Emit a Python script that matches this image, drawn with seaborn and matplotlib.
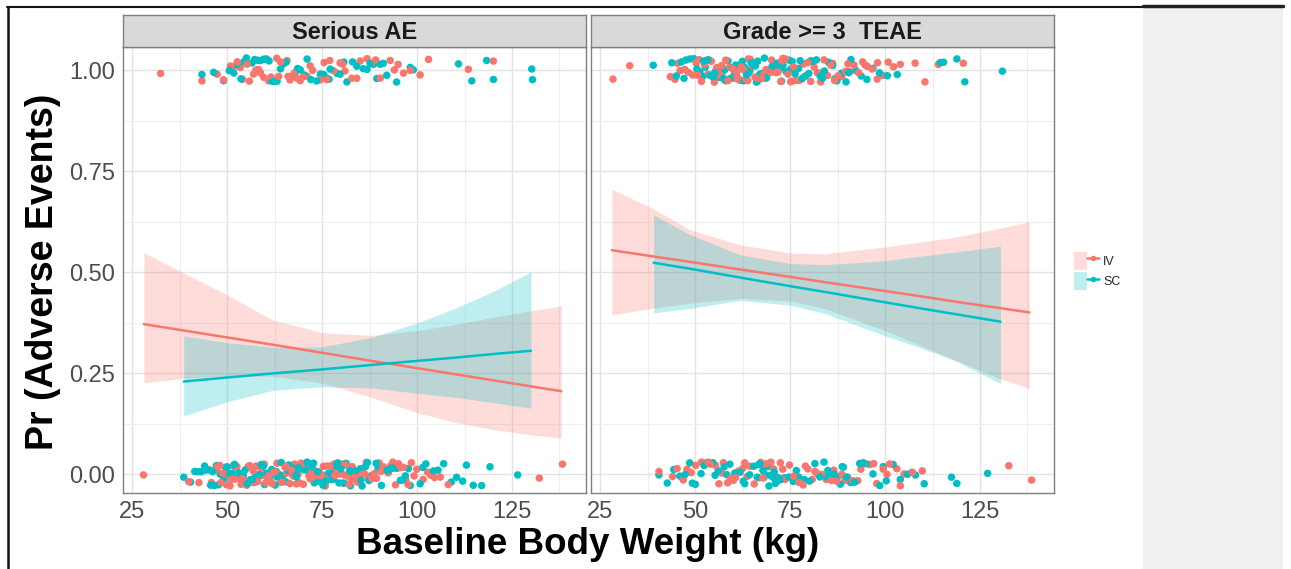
import numpy as np
import pandas as pd
import matplotlib
matplotlib.use("Agg")
import matplotlib.pyplot as plt
import seaborn as sns
from matplotlib.patches import Patch, Rectangle
from matplotlib.lines import Line2D
from matplotlib.legend_handler import HandlerTuple

# ---------------- data ----------------
panels = ["Serious AE", "Grade >= 3  TEAE"]
routes = ["IV", "SC"]
colors = {"IV": "#F8766D", "SC": "#00BFC4"}
x_ticks = [25, 50, 75, 100, 125]
y_ticks = [0.0, 0.25, 0.5, 0.75, 1.0]
y_tick_labels = ["0.00", "0.25", "0.50", "0.75", "1.00"]

# observed body weights (kg), by panel / route / outcome
sae_iv_1 = [32.4, 43.3, 47.3, 49, 50.8, 51.7, 53.4, 54, 55.2, 56.9, 57.5, 58.7, 59.6, 60.9, 61.5,
            62.2, 63, 64, 65.7, 66.5, 67.5, 69.2, 70, 71, 72.5, 74.5, 75.5, 76.2, 78, 79.7, 81,
            82.8, 84.1, 86.8, 88, 90.3, 92.9, 94, 96.4, 98.2, 100.8, 103, 113.5, 120.1,
            52.6, 55.8, 58.2, 60.3, 63.5, 66.0, 68.4, 71.8, 77.0, 80.4, 85.0, 89.1, 95.0]
sae_sc_1 = [43.3, 46.4, 49, 51.7, 52.5, 54.3, 55, 56.5, 58, 58.7, 59.6, 60.4, 61, 62.2, 63.1, 64,
            64.8, 66.6, 67.9, 69.2, 71, 72, 73.5, 74.5, 75.4, 76.2, 77.1, 78.9, 79.7, 81.5, 84.1,
            86.8, 87.6, 89.4, 90.3, 91.1, 94.6, 98.2, 99, 110.9, 114.4, 118.3, 120.1, 130.2, 130.4,
            50.5, 53.6, 57.2, 61.7, 65.5, 68.5, 70.2, 76.8, 80.7, 83.0, 85.8, 88.5, 92.0]
sae_iv_0 = [27.9, 39.8, 42.5, 44.1, 45.3, 46.9, 47.4, 48.3, 48.8, 49.7, 50.2, 51.1, 51.7, 52.5,
            53.1, 53.6, 54.4, 55.1, 55.5, 56.3, 56.8, 57.6, 58.0, 58.9, 59.3, 60.1, 60.6, 61.4,
            61.8, 62.7, 63.1, 63.9, 64.4, 65.2, 65.6, 66.5, 66.9, 67.7, 68.2, 69.0, 69.4, 70.3,
            70.7, 71.5, 72.0, 72.8, 73.2, 74.1, 74.5, 75.3, 75.8, 76.6, 77.0, 77.9, 78.3, 79.1,
            79.6, 80.4, 80.8, 81.7, 82.1, 82.9, 83.4, 84.2, 84.7, 85.6, 86.1, 87.1, 87.6, 88.7,
            89.3, 90.5, 91.1, 92.4, 93.0, 94.3, 95.1, 96.4, 97.6, 98.5, 99.9, 101.6, 102.8,
            104.6, 106.1, 108.2, 132.2, 138.3,
            45.8, 48.0, 50.7, 52.0, 53.9, 55.9, 57.2, 59.7, 61.0, 62.3, 64.0, 65.4, 67.3, 68.6,
            70.0, 71.8, 73.6, 74.9, 76.2, 78.1, 79.4, 81.1, 82.6, 84.4, 86.6, 88.1, 90.0, 91.7,
            93.6, 95.7, 97.0, 99.2, 103.6]
sae_sc_0 = [38.5, 40.3, 41.4, 43.1, 44.7, 45.6, 46.1, 47.1, 47.7, 48.6, 49.1, 50.0, 50.5, 51.4,
            51.9, 52.8, 53.3, 54.2, 54.7, 55.6, 56.1, 57.0, 57.5, 58.4, 58.9, 59.8, 60.3, 61.2,
            61.7, 62.6, 63.1, 64.0, 64.5, 65.4, 65.9, 66.8, 67.3, 68.2, 68.7, 69.6, 70.1, 71.0,
            71.5, 72.4, 72.9, 73.8, 74.3, 75.2, 75.7, 76.6, 77.1, 78.0, 78.5, 79.4, 79.9, 80.8,
            81.3, 82.2, 82.7, 83.6, 84.1, 85.0, 85.5, 86.4, 86.9, 87.8, 88.3, 89.2, 89.7, 90.6,
            91.1, 92.1, 92.9, 94.1, 94.8, 96.1, 96.9, 98.2, 100.8, 102.3, 104.3, 105.5, 107.0,
            110.4, 113.0, 114.8, 117.0, 119.2, 126.5,
            42.2, 44.0, 46.6, 48.1, 49.5, 51.7, 53.0, 55.2, 56.6, 58.1, 59.5, 61.5, 62.9, 64.2,
            66.2, 67.9, 69.3, 70.6, 72.7, 74.0, 76.1, 77.5, 79.0, 80.5, 82.4, 83.9, 85.2, 87.3,
            88.9, 90.2, 93.5, 95.6, 97.7, 101.5, 109.0, 112.0]
teae_iv_1 = [28.3, 32.7, 43.4, 44.6, 46.0, 47.2, 48.1, 49.3, 50.2, 51.0, 51.6, 52.4, 53.0, 53.7,
             54.2, 55.0, 55.6, 56.1, 56.9, 57.3, 58.0, 58.6, 59.1, 59.8, 60.3, 60.9, 61.6, 62.0,
             62.7, 63.3, 63.8, 64.5, 65.1, 65.7, 66.2, 66.9, 67.5, 68.1, 68.6, 69.3, 69.9, 70.5,
             71.2, 71.8, 72.5, 73.1, 73.8, 74.4, 75.1, 75.9, 76.6, 77.4, 78.1, 78.9, 79.6, 80.4,
             81.3, 82.1, 83.0, 83.9, 84.8, 85.7, 86.7, 87.6, 88.6, 89.6, 90.7, 91.8, 93.0, 94.1,
             95.3, 96.6, 97.9, 99.3, 100.8, 102.2, 104.0, 107.9, 110.5, 114.0, 120.6,
             45.3, 50.6, 53.3, 55.3, 57.7, 61.1, 64.0, 66.6, 70.1, 72.8, 75.5, 78.5, 82.6, 86.2,
             90.2, 94.7, 98.0]
teae_sc_1 = [38.9, 43.8, 45.0, 46.3, 47.5, 48.6, 49.6, 50.4, 51.2, 51.9, 52.6, 53.3, 53.9, 54.5,
             55.1, 55.7, 56.3, 56.9, 57.4, 58.0, 58.6, 59.1, 59.7, 60.2, 60.8, 61.3, 61.9, 62.4,
             63.0, 63.5, 64.1, 64.7, 65.2, 65.8, 66.4, 67.0, 67.6, 68.2, 68.8, 69.5, 70.2, 70.9,
             71.6, 72.3, 73.1, 73.9, 74.7, 75.5, 76.3, 77.2, 78.1, 79.0, 79.9, 80.9, 81.9, 82.9,
             84.0, 85.1, 86.2, 87.3, 88.5, 89.7, 91.0, 92.3, 93.7, 95.2, 96.8, 98.5, 100.6,
             103.2, 114.5, 115.4, 118.9, 121.0, 130.9,
             47.0, 52.2, 54.8, 57.8, 60.6, 62.7, 64.4, 66.1, 67.3, 68.5, 70.6, 72.7, 75.1, 77.6,
             80.4, 83.5, 86.7, 90.4]
teae_iv_0 = [40.4, 45.2, 46.8, 48.9, 50.1, 51.6, 52.7, 54.0, 55.3, 56.2, 57.4, 58.5, 59.3, 60.6,
             61.4, 62.5, 63.6, 64.4, 65.5, 66.7, 67.8, 68.6, 69.9, 71.2, 72.4, 73.6, 74.8, 75.9,
             77.3, 78.4, 79.6, 80.8, 82.1, 83.3, 84.5, 85.9, 87.2, 88.6, 90.1, 91.5, 92.8, 94.4,
             96.0, 97.8, 99.5, 101.2, 103.1, 105.0, 107.2, 109.8, 132.6, 138.6,
             44.0, 47.8, 53.4, 57.0, 60.0, 63.0, 67.2, 70.6, 73.0, 76.4, 79.0, 81.5, 86.5, 89.4,
             93.6, 97.0, 100.5, 104.0]
teae_sc_0 = [40.4, 42.6, 45.9, 47.3, 48.5, 50.0, 51.5, 53.1, 54.6, 56.0, 57.6, 59.1, 60.4, 61.8,
             63.0, 64.3, 65.4, 66.3, 67.1, 67.8, 68.5, 69.1, 69.8, 70.4, 71.1, 71.8, 72.6, 73.5,
             74.6, 75.8, 77.2, 78.7, 80.1, 81.5, 82.8, 83.9, 84.9, 85.8, 86.6, 87.4, 88.2, 89.0,
             89.9, 90.9, 92.0, 93.3, 95.0, 96.8, 98.6, 100.3, 102.1, 104.0, 105.9, 108.0, 110.3,
             117.5, 118.9, 127.0,
             44.3, 49.2, 52.3, 55.2, 58.3, 62.6, 66.7, 68.1, 69.4, 70.8, 72.2, 76.6, 84.4, 86.1,
             88.7, 91.4, 94.1, 99.5, 107.0]

# fitted probabilities with 95% bands
sae_iv_x = [28, 40, 50, 62, 75, 88, 100, 110, 120, 130, 138]
sae_iv_fit = [0.371, 0.353, 0.338, 0.320, 0.300, 0.280, 0.262, 0.247, 0.232, 0.217, 0.205]
sae_iv_lo = [0.226, 0.238, 0.243, 0.242, 0.225, 0.190, 0.152, 0.128, 0.110, 0.097, 0.089]
sae_iv_hi = [0.548, 0.490, 0.443, 0.381, 0.350, 0.343, 0.355, 0.370, 0.388, 0.404, 0.416]
sae_sc_x = [38.5, 50, 62, 75, 88, 100, 110, 120, 130]
sae_sc_fit = [0.229, 0.239, 0.249, 0.259, 0.270, 0.280, 0.288, 0.297, 0.305]
sae_sc_lo = [0.144, 0.179, 0.207, 0.216, 0.213, 0.200, 0.190, 0.177, 0.163]
sae_sc_hi = [0.342, 0.325, 0.314, 0.315, 0.338, 0.374, 0.410, 0.452, 0.500]

teae_iv_x = [28, 38.6, 48.7, 62, 75, 84, 100, 110, 119, 130, 138]
teae_iv_fit = [0.554, 0.539, 0.525, 0.506, 0.488, 0.475, 0.453, 0.439, 0.426, 0.411, 0.400]
teae_iv_lo = [0.394, 0.410, 0.423, 0.435, 0.428, 0.410, 0.355, 0.315, 0.280, 0.237, 0.212]
teae_iv_hi = [0.705, 0.658, 0.604, 0.567, 0.547, 0.545, 0.562, 0.575, 0.587, 0.608, 0.625]
teae_sc_x = [39, 48.7, 62, 75, 84, 100, 110, 119, 130.4]
teae_sc_fit = [0.523, 0.508, 0.486, 0.465, 0.451, 0.425, 0.409, 0.395, 0.377]
teae_sc_lo = [0.399, 0.410, 0.430, 0.418, 0.398, 0.342, 0.310, 0.278, 0.224]
teae_sc_hi = [0.641, 0.592, 0.542, 0.521, 0.518, 0.528, 0.540, 0.550, 0.564]

points = {
    panels[0]: {"IV": (sae_iv_0, sae_iv_1), "SC": (sae_sc_0, sae_sc_1)},
    panels[1]: {"IV": (teae_iv_0, teae_iv_1), "SC": (teae_sc_0, teae_sc_1)},
}
fits = {
    panels[0]: {"IV": (sae_iv_x, sae_iv_fit, sae_iv_lo, sae_iv_hi),
                "SC": (sae_sc_x, sae_sc_fit, sae_sc_lo, sae_sc_hi)},
    panels[1]: {"IV": (teae_iv_x, teae_iv_fit, teae_iv_lo, teae_iv_hi),
                "SC": (teae_sc_x, teae_sc_fit, teae_sc_lo, teae_sc_hi)},
}

# ---------------- figure ----------------
sns.set_style("white")
plt.rcParams["font.family"] = ["Liberation Sans", "DejaVu Sans"]
np.random.seed(7)

W, H = 1291, 569
fig = plt.figure(figsize=(W / 100, H / 100), dpi=100)
fig.patch.set_facecolor("white")

def fx(px):
    return px / W

def fy(py):
    return 1 - py / H

# document frame and grey side box
fig.add_artist(Rectangle((fx(1143), 0), fx(1283) - fx(1143), fy(7), transform=fig.transFigure,
                         facecolor="#F0F0F0", edgecolor="none", zorder=0))
fig.add_artist(Line2D([fx(7), fx(1143)], [fy(7), fy(7)], transform=fig.transFigure,
                      color="#111111", lw=1.5))
fig.add_artist(Line2D([fx(1143), fx(1283)], [fy(6), fy(6)], transform=fig.transFigure,
                      color="#231F20", lw=2.5))
fig.add_artist(Line2D([fx(8), fx(8)], [fy(7), 0], transform=fig.transFigure,
                      color="#111111", lw=1.8))

panel_left = [123, 591]
panel_w = 463
top, bottom = 47, 493
strip_top = 15

for i, pname in enumerate(panels):
    ax = fig.add_axes([fx(panel_left[i]), fy(bottom), panel_w / W, (bottom - top) / H])
    ax.set_facecolor("white")
    # bands + fitted lines
    frames = []
    for r in routes:
        xs, fit, lo, hi = fits[pname][r]
        ax.fill_between(xs, lo, hi, color=colors[r], alpha=0.25, lw=0, zorder=2)
        frames.append(pd.DataFrame({"weight": xs, "prob": fit, "route": r}))
    fdf = pd.concat(frames, ignore_index=True)
    sns.lineplot(data=fdf, x="weight", y="prob", hue="route", hue_order=routes,
                 palette=colors, ax=ax, legend=False, linewidth=1.8, zorder=3)
    # jittered observations
    pframes = []
    for r in routes:
        w0, w1 = points[pname][r]
        pframes.append(pd.DataFrame({"weight": w0, "event": 0, "route": r}))
        pframes.append(pd.DataFrame({"weight": w1, "event": 1, "route": r}))
    pdf = pd.concat(pframes, ignore_index=True).sample(frac=1, random_state=3)
    sns.stripplot(data=pdf, x="weight", y="event", hue="route", hue_order=routes,
                  palette=colors, orient="h", native_scale=True, jitter=0.03,
                  size=5.4, linewidth=0, ax=ax, legend=False, zorder=4)

    ax.set_xlim(22.5, 144.5)
    ax.set_ylim(-0.047, 1.057)
    ax.set_xticks(x_ticks)
    ax.set_xticks([37.5, 62.5, 87.5, 112.5, 137.5], minor=True)
    ax.set_yticks(y_ticks)
    ax.set_yticks([0.125, 0.375, 0.625, 0.875], minor=True)
    ax.grid(True, which="major", color="#E3E3E3", lw=1.0, zorder=0)
    ax.grid(True, which="minor", color="#EEEEEE", lw=0.8, zorder=0)
    ax.set_axisbelow(True)
    ax.set_xticklabels([str(t) for t in x_ticks], fontsize=17, color="#4D4D4D")
    ax.set_xlabel("")
    ax.set_ylabel("")
    ax.tick_params(axis="x", which="major", length=4, width=0.8, color="#555555", pad=2)
    ax.tick_params(axis="both", which="minor", length=0)
    if i == 0:
        ax.set_yticklabels(y_tick_labels, fontsize=17, color="#4D4D4D")
        ax.tick_params(axis="y", which="major", length=4, width=0.8, color="#555555", pad=2)
    else:
        ax.set_yticklabels([])
        ax.tick_params(axis="y", which="major", length=0)
    for s in ax.spines.values():
        s.set_color("#7F7F7F")
        s.set_linewidth(1.0)

    # facet strip
    sax = fig.add_axes([fx(panel_left[i]), fy(top), panel_w / W, (top - strip_top) / H])
    sax.set_facecolor("#D9D9D9")
    sax.set_xticks([])
    sax.set_yticks([])
    for s in sax.spines.values():
        s.set_color("#7F7F7F")
        s.set_linewidth(1.0)
    sax.text(0.5, 0.45, pname, ha="center", va="center", fontsize=17, fontweight="bold",
             color="#1A1A1A", transform=sax.transAxes)

# axis titles
fig.text(fx(588), fy(544), "Baseline Body Weight (kg)", ha="center", va="center",
         fontsize=26.5, fontweight="bold", color="black")
fig.text(fx(43), fy(272), "Pr (Adverse Events)", ha="center", va="center", rotation=90,
         fontsize=27, fontweight="bold", color="black")

# legend
handles = []
for r in routes:
    handles.append((Patch(facecolor=colors[r], alpha=0.25, edgecolor="none"),
                    Line2D([], [], color=colors[r], lw=1.8, marker="o", markersize=3)))
fig.legend(handles, routes, handler_map={tuple: HandlerTuple(ndivide=None, pad=0)},
           loc="center left", bbox_to_anchor=(fx(1068), fy(271)), frameon=False,
           fontsize=9, handlelength=2.0, handleheight=1.9, labelspacing=0.15,
           handletextpad=0.3, borderpad=0)

fig.savefig("out.png", dpi=100)
